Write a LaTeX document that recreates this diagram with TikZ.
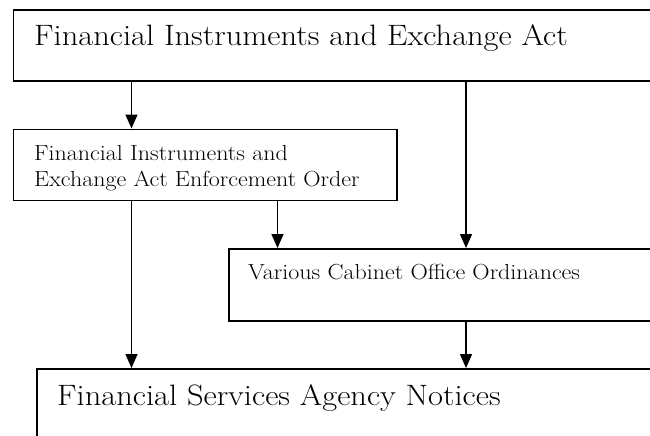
\documentclass[tikz,border=0pt]{standalone}
\usepackage{graphicx}
\usetikzlibrary{arrows.meta}
\newcommand{\wide}[1]{\scalebox{1.1}[1]{#1}}
\begin{document}
\begin{tikzpicture}[x=1pt,y=-1pt,
  box/.style={draw=black,line width=1.8pt,rectangle,inner sep=0pt,anchor=north west},
  bigtxt/.style={anchor=base west,inner sep=0pt,font=\fontsize{29.5}{35}\selectfont},
  smalltxt/.style={anchor=base west,inner sep=0pt,align=left,font=\fontsize{21.8}{26}\selectfont},
  arr/.style={line width=1.6pt,-{Triangle[length=14pt,width=12pt]}}]
\useasboundingbox (0,0) rectangle (650,436);
\clip (0,0) rectangle (650,436);
% boxes
\node[box,minimum width=680pt,minimum height=70.5pt] (act) at (12.5,9.5) {};
\node[box,minimum width=383.5pt,minimum height=71pt] (enf) at (12.5,128.5) {};
\node[box,minimum width=460pt,minimum height=72pt] (cab) at (228,248) {};
\node[box,minimum width=660pt,minimum height=100pt] (fsa) at (36,368) {};
% texts
\node[bigtxt] (acttext) at (34,46) {\wide{Financial Instruments and Exchange Act}};
\node[smalltxt] (enftext) at (34,186) {\wide{Financial Instruments and}\\\wide{Exchange Act Enforcement Order}};
\node[smalltxt] (cabtext) at (248,279) {\wide{Various Cabinet Office Ordinances}};
\node[bigtxt] (fsatext) at (57,405) {\wide{Financial Services Agency Notices}};
% columns
\coordinate (c1) at (131.5,0);
\coordinate (c2) at (277.5,0);
\coordinate (c3) at (466,0);
% connectors
\draw[arr] (act.south -| c1) -- (enf.north -| c1);
\draw[arr] (act.south -| c3) -- (cab.north -| c3);
\draw[arr] (enf.south -| c2) -- (cab.north -| c2);
\draw[arr] (enf.south -| c1) -- (fsa.north -| c1);
\draw[arr] (cab.south -| c3) -- (fsa.north -| c3);
\end{tikzpicture}
\end{document}
